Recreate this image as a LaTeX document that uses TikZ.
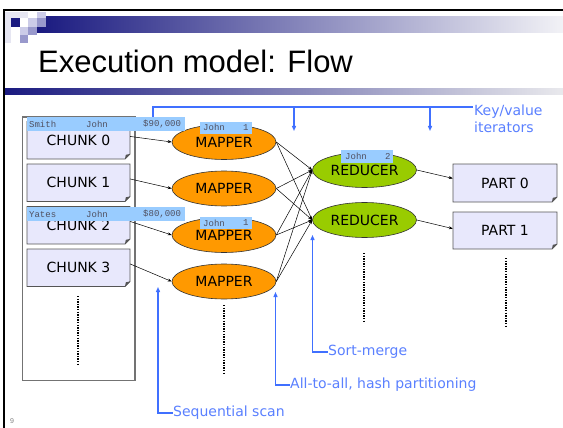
\documentclass[tikz,border=0pt]{standalone}
\usepackage{fontspec}
\setmainfont{DejaVu Sans}
\newfontfamily\titlefont{Liberation Sans}
\newfontfamily\labelmono{Liberation Mono}
\usetikzlibrary{shapes.geometric,arrows.meta,calc}

\definecolor{slidenavy}{HTML}{1A1A80}
\definecolor{barend}{HTML}{F2F2F6}
\definecolor{checkfaint}{HTML}{E6E6F2}
\definecolor{checklight}{HTML}{CCCCE8}
\definecolor{checkmid}{HTML}{9999CC}
\definecolor{mapfill}{HTML}{FF9900}
\definecolor{redfill}{HTML}{99CC00}
\definecolor{tagfill}{HTML}{99CCFF}
\definecolor{notefill}{HTML}{E8E8FC}
\definecolor{noteline}{HTML}{555555}
\definecolor{annline}{HTML}{4070FF}
\definecolor{anntext}{HTML}{5A80FF}
\definecolor{tagtext}{HTML}{505060}

% box with a folded lower-right corner, named #1, corners (#2,#3)-(#4,#5)
\newcommand\notebox[6]{%
  \path[draw=noteline, fill=notefill, line width=0.8pt]
    (#2,#3) -- (#4,#3) -- (#4,#5-5) -- (#4-5,#5) -- (#2,#5) -- cycle;
  \fill[noteline] (#4,#5-5) -- (#4-5,#5) -- (#4-4.2,#5-4.2) -- cycle;
  \node[boxtext, minimum width={#4-#2}, minimum height={#5-#3}] (#1)
    at ({(#2+#4)/2},{(#3+#5)/2}) {#6};
}

\tikzset{
  worker/.style={ellipse, draw=black!80, line width=0.6pt, minimum width=104pt,
    minimum height=35pt, inner sep=0pt, font=\fontsize{14}{16}\selectfont},
  mapper/.style={worker, fill=mapfill},
  reducer/.style={worker, fill=redfill},
  boxtext/.style={inner sep=0pt, font=\fontsize{14}{16}\selectfont},
  tag/.style={fill=tagfill, inner sep=0pt, anchor=north west},
  tagword/.style={font=\labelmono\fontsize{9}{10}\selectfont, text=tagtext,
    inner sep=0pt, anchor=west},
  flow/.style={-{Stealth[length=4pt,width=3pt]}, line width=0.5pt, black},
  note/.style={text=anntext, font=\fontsize{14}{17}\selectfont, inner sep=0pt, anchor=west},
  pointer/.style={annline, line width=1.4pt, -{Triangle[length=5pt,width=4pt]}},
  dots/.style={line width=1.3pt, dash pattern=on 1.3pt off 1.3pt},
}

\begin{document}
\begin{tikzpicture}[x=1pt,y=-1pt]
\useasboundingbox (0,0) rectangle (563,428);
\fill[white] (0,0) rectangle (563,428);

% slide decoration
\shade[left color=slidenavy, right color=barend] (37,17) rectangle (563,33);
\shade[left color=slidenavy, right color=barend!92!gray] (4,89) rectangle (563,95);
\fill[checkfaint] (5,12) rectangle (11,43);
\fill[checkfaint] (11,12) rectangle (28,18);
\fill[slidenavy] (11,18) rectangle (20,27);
\fill[checklight] (28,18) rectangle (37,27);
\fill[checklight] (37,12) rectangle (46,18);
\fill[checkmid] (37,18) rectangle (46,27);
\fill[checklight] (20,27) rectangle (28,35);
\fill[checkmid] (28,27) rectangle (37,35);
\fill[checkmid] (20,35) rectangle (28,43);
\draw[black, line width=1.5pt] (4,428) -- (4,10) -- (563,10);

\node[anchor=base west, inner sep=0pt, font=\titlefont\fontsize{31}{36}\selectfont]
  (title) at (38,72.7) {Execution model: Flow};
\node[anchor=west, inner sep=0pt, text=gray, font=\titlefont\fontsize{7}{8}\selectfont]
  (page) at (10,421) {9};

% input file with its chunks
\draw[draw=black!55, fill=white, line width=1.1pt] (22.5,117) rectangle (135,380.5);
\notebox{c0}{27}{121.5}{130}{159}{CHUNK 0}
\notebox{c1}{27}{164}{130}{201.5}{CHUNK 1}
\notebox{c2}{27}{206.5}{130}{244}{CHUNK 2}
\notebox{c3}{27}{249}{130}{286.5}{CHUNK 3}
\draw[dots] (78,296) -- (78,364);

% mappers and reducers
\node[mapper] (m0) at (224,142) {MAPPER};
\node[mapper] (m1) at (224,188.5) {MAPPER};
\node[mapper] (m2) at (224,235) {MAPPER};
\node[mapper] (m3) at (224,281.5) {MAPPER};
\draw[dots] (224,305) -- (224,373);

\node[reducer] (r0) at (364.5,170) {REDUCER};
\node[reducer] (r1) at (364.5,220) {REDUCER};
\draw[dots] (364,253) -- (364,323);

% output partitions
\notebox{p0}{453}{164}{557}{202}{PART 0}
\notebox{p1}{453}{212}{557}{249}{PART 1}
\draw[dots] (506,258) -- (506,327);

% data flow
\foreach \i in {0,...,3}
  \draw[flow] ($(c\i.north east)!0.4!(c\i.south east)$) -- (m\i.west);
\foreach \i in {0,...,3}
  \foreach \j in {0,1}
    \draw[flow] (m\i.east) -- (r\j.west);
\draw[flow] (r0.east) -- ($(p0.north west)!0.38!(p0.south west)$);
\draw[flow] (r1.east) -- ($(p1.north west)!0.45!(p1.south west)$);

% key/value records
\node[tag, minimum width=158pt, minimum height=14pt] (t0) at (27,117) {};
\node[tagword] (t0a) at (29,124) {Smith};
\node[tagword] (t0b) at (86,124) {John};
\node[tagword] (t0c) at (143,124) {\$90,000};
\node[tag, minimum width=158pt, minimum height=14pt] (t1) at (27,207) {};
\node[tagword] (t1a) at (29,214.5) {Yates};
\node[tagword] (t1b) at (86,214.5) {John};
\node[tagword] (t1c) at (143,214.5) {\$80,000};
\node[tag, minimum width=52pt, minimum height=11.5pt] (t2) at (200,122) {};
\node[tagword] (t2a) at (203,127.5) {John};
\node[tagword] (t2b) at (243,127.5) {1};
\node[tag, minimum width=52pt, minimum height=12pt] (t3) at (200,217) {};
\node[tagword] (t3a) at (203,223) {John};
\node[tagword] (t3b) at (243,223) {1};
\node[tag, minimum width=52pt, minimum height=13pt] (t4) at (341,150) {};
\node[tagword] (t4a) at (345,156.5) {John};
\node[tagword] (t4b) at (385,156.5) {2};

% annotations
\node[note, align=left] (kv) at (474,118.5) {Key/value\\iterators};
\coordinate (kvstart) at (153,117);
\coordinate (kvend) at (473,107);
\coordinate (kvj1) at (294,107);
\coordinate (kvj2) at (430,107);
\coordinate (kvtip1) at (294,131);
\coordinate (kvtip2) at (430,131);
\draw[annline, line width=1.5pt] (kvstart) |- (kvend);
\draw[pointer] (kvj1) -- (kvtip1);
\draw[pointer] (kvj2) -- (kvtip2);

\node[note] (sm) at (328,352) {Sort-merge};
\coordinate (smtip) at (312.5,235);
\draw[pointer] (sm.west) -| (smtip);

\node[note] (ata) at (290,385) {All-to-all, hash partitioning};
\coordinate (atatip) at (275.5,292);
\draw[pointer] (ata.west) -| (atatip);

\node[note] (seq) at (173,413) {Sequential scan};
\coordinate (seqtip) at (158,287);
\draw[pointer] (seq.west) -| (seqtip);
\end{tikzpicture}
\end{document}
